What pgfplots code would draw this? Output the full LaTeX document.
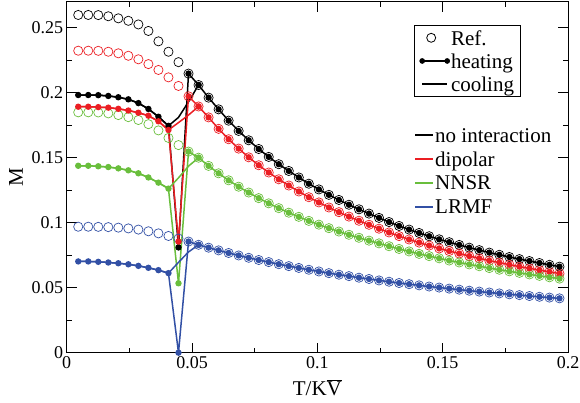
\documentclass[border=0pt]{standalone}
\usepackage{pgfplots}
\pgfplotsset{compat=1.18}
\usepackage{pgfplotstable}
\usepackage{fontspec}
\setmainfont{Liberation Serif}
\definecolor{cR}{RGB}{235,30,35}
\definecolor{cG}{RGB}{105,190,60}
\definecolor{cL}{RGB}{50,80,165}

\pgfplotstableread{
x b r g l
0.0046 0.2598 0.2323 0.1849 0.0969
0.0086 0.2598 0.2323 0.1849 0.0969
0.0126 0.2597 0.2322 0.1848 0.0968
0.0166 0.2588 0.2315 0.1841 0.0966
0.0206 0.2572 0.2303 0.1828 0.0962
0.0246 0.2553 0.2284 0.1812 0.0956
0.0286 0.2525 0.2257 0.1790 0.0947
0.0326 0.2475 0.2220 0.1758 0.0934
0.0366 0.2395 0.2175 0.1710 0.0918
0.0406 0.2315 0.2118 0.1652 0.0898
0.0446 0.2235 0.2052 0.1597 0.0878
0.0486 0.2147 0.1972 0.1547 0.0855
0.0526 0.2059 0.1894 0.1500 0.0830
0.0566 0.1962 0.1810 0.1437 0.0808
0.0606 0.1872 0.1722 0.1380 0.0787
0.0646 0.1785 0.1642 0.1326 0.0767
0.0686 0.1706 0.1570 0.1277 0.0748
0.0726 0.1634 0.1503 0.1232 0.0730
0.0766 0.1567 0.1442 0.1189 0.0713
0.0806 0.1506 0.1386 0.1149 0.0697
0.0846 0.1450 0.1334 0.1112 0.0681
0.0886 0.1398 0.1286 0.1077 0.0666
0.0926 0.1348 0.1240 0.1045 0.0652
0.0966 0.1300 0.1196 0.1014 0.0638
0.1006 0.1256 0.1156 0.0985 0.0625
0.1046 0.1214 0.1117 0.0958 0.0612
0.1086 0.1175 0.1081 0.0932 0.0600
0.1126 0.1138 0.1047 0.0907 0.0589
0.1166 0.1103 0.1015 0.0884 0.0577
0.1206 0.1070 0.0984 0.0862 0.0567
0.1246 0.1037 0.0954 0.0841 0.0556
0.1286 0.1005 0.0925 0.0819 0.0546
0.1326 0.0975 0.0897 0.0798 0.0536
0.1366 0.0947 0.0871 0.0779 0.0527
0.1406 0.0921 0.0847 0.0760 0.0518
0.1446 0.0896 0.0824 0.0743 0.0509
0.1486 0.0872 0.0802 0.0726 0.0501
0.1526 0.0850 0.0782 0.0709 0.0493
0.1566 0.0829 0.0763 0.0694 0.0485
0.1606 0.0808 0.0743 0.0679 0.0477
0.1646 0.0789 0.0726 0.0665 0.0470
0.1686 0.0770 0.0708 0.0651 0.0463
0.1726 0.0753 0.0693 0.0638 0.0456
0.1766 0.0736 0.0677 0.0626 0.0449
0.1806 0.0720 0.0662 0.0614 0.0443
0.1846 0.0705 0.0649 0.0602 0.0436
0.1886 0.0690 0.0635 0.0591 0.0430
0.1926 0.0676 0.0622 0.0580 0.0424
0.1966 0.0662 0.0609 0.0570 0.0418
}\reftab

\pgfplotstableread{
x hb hr hg hl cb cr cg cl
0.0046 0.1982 0.1892 0.1438 0.0702 0.1982 0.1892 0.1438 0.0702
0.0086 0.1982 0.1892 0.1438 0.0702 0.1982 0.1892 0.1438 0.0702
0.0126 0.1981 0.1889 0.1434 0.0699 0.1981 0.1889 0.1434 0.0699
0.0166 0.1975 0.1885 0.1428 0.0694 0.1975 0.1885 0.1428 0.0694
0.0206 0.1965 0.1876 0.1418 0.0688 0.1965 0.1876 0.1418 0.0688
0.0246 0.1949 0.1863 0.1403 0.0680 0.1949 0.1863 0.1403 0.0680
0.0286 0.1920 0.1846 0.1380 0.0668 0.1920 0.1846 0.1380 0.0668
0.0326 0.1875 0.1823 0.1348 0.0653 0.1875 0.1823 0.1348 0.0653
0.0366 0.1815 0.1780 0.1308 0.0635 0.1815 0.1780 0.1308 0.0635
0.0406 0.1745 0.1713 0.1262 0.0612 0.1745 0.1713 0.1262 0.0612
0.0446 0.0810 0.0855 0.0534 0.0000 0.1810 0.1770 0.1345 0.0695
0.0486 0.2147 0.1972 0.1547 0.0855 0.1930 0.1828 0.1435 0.0775
0.0526 0.2059 0.1894 0.1500 0.0830 0.2059 0.1894 0.1500 0.0830
}\lowtab

\begin{document}
\begin{tikzpicture}
\begin{axis}[
  at={(0,0)}, anchor=south west,
  scale only axis, width=501.3pt, height=350.7pt,
  xmin=0, xmax=0.2, ymin=0, ymax=0.26977,
  xtick={0,0.05,0.1,0.15,0.2}, xticklabels={0,0.05,0.1,0.15,0.2},
  ytick={0,0.05,0.1,0.15,0.2,0.25}, yticklabels={0,0.05,0.1,0.15,0.2,0.25},
  minor x tick num=1, minor y tick num=1,
  xtick pos=both, ytick pos=both, xticklabel pos=left, yticklabel pos=left,
  tick align=inside, major tick length=10pt, minor tick length=5pt,
  tick style={line width=0.9pt, black},
  axis line style={line width=1pt},
  tick label style={font=\fontsize{18}{20}\selectfont},
  label style={font=\fontsize{21}{24}\selectfont},
  xlabel={T/K$\overline{\mbox{V}}$}, ylabel={M},
  xlabel style={at={(axis description cs:0.5,0)}, anchor=base, yshift=-43pt},
  ylabel style={at={(axis description cs:-0.101,0.5)}, anchor=center},
  legend style={at={(0.6928,0.9344)}, anchor=north west, draw=black, line width=0.8pt,
    font=\fontsize{21}{22}\selectfont, row sep=6.5pt, inner xsep=5pt, inner ysep=4pt,
    nodes={inner sep=1pt, text depth=0pt},
    /tikz/every even column/.append style={column sep=5pt}},
  legend cell align=left,
]
\addlegendimage{legend image code/.code={\path[draw=none] (0pt,0pt)--(25pt,0pt); \draw[black, line width=0.8pt] (9pt,0pt) circle (4.5pt);}}
\addlegendentry{Ref.}
\addlegendimage{legend image code/.code={\draw[black,line width=2pt] (0pt,0pt)--(25pt,0pt); \fill[black] (0pt,0pt) circle (2.4pt); \fill[black] (25pt,0pt) circle (2.4pt);}}
\addlegendentry{heating}
\addlegendimage{legend image code/.code={\draw[black,line width=2pt] (0pt,0pt)--(25pt,0pt);}}
\addlegendentry{cooling}

% reference curves
\addplot[black, only marks, mark=o, mark size=4.6pt, mark options={line width=0.7pt}, forget plot] table[x=x,y=b]{\reftab};
\addplot[cR, only marks, mark=o, mark size=4.6pt, mark options={line width=0.7pt}, forget plot] table[x=x,y=r]{\reftab};
\addplot[cG, only marks, mark=o, mark size=4.6pt, mark options={line width=0.7pt}, forget plot] table[x=x,y=g]{\reftab};
\addplot[cL, only marks, mark=o, mark size=4.6pt, mark options={line width=0.7pt}, forget plot] table[x=x,y=l]{\reftab};

% black
\addplot[black, line width=1.5pt, forget plot] table[x=x,y=cb]{\lowtab};
\addplot[black, line width=1.5pt, mark=*, mark size=2.4pt, forget plot] table[x=x,y=hb]{\lowtab};
\addplot[black, line width=1.5pt, mark=*, mark size=2.4pt, restrict x to domain=0.05:0.21, forget plot] table[x=x,y=b]{\reftab};
% red
\addplot[cR, line width=1.5pt, forget plot] table[x=x,y=cr]{\lowtab};
\addplot[cR, line width=1.5pt, mark=*, mark size=2.4pt, forget plot] table[x=x,y=hr]{\lowtab};
\addplot[cR, line width=1.5pt, mark=*, mark size=2.4pt, restrict x to domain=0.05:0.21, forget plot] table[x=x,y=r]{\reftab};
% green
\addplot[cG, line width=1.5pt, forget plot] table[x=x,y=cg]{\lowtab};
\addplot[cG, line width=1.5pt, mark=*, mark size=2.4pt, forget plot] table[x=x,y=hg]{\lowtab};
\addplot[cG, line width=1.5pt, mark=*, mark size=2.4pt, restrict x to domain=0.05:0.21, forget plot] table[x=x,y=g]{\reftab};
% blue
\addplot[cL, line width=1.5pt, forget plot] table[x=x,y=cl]{\lowtab};
\addplot[cL, line width=1.5pt, mark=*, mark size=2.4pt, forget plot] table[x=x,y=hl]{\lowtab};
\addplot[cL, line width=1.5pt, mark=*, mark size=2.4pt, restrict x to domain=0.05:0.21, forget plot] table[x=x,y=l]{\reftab};
\end{axis}

\begin{axis}[
  at={(0,0)}, anchor=south west,
  scale only axis, width=501.3pt, height=350.7pt,
  xmin=0, xmax=1, ymin=0, ymax=1, hide axis,
  legend style={at={(0.6928,0.6436)}, anchor=north west, draw=none, fill=none,
    font=\fontsize{21}{22}\selectfont, row sep=7.7pt, inner sep=0pt,
    nodes={inner sep=1pt, text depth=0pt},
    /tikz/every even column/.append style={column sep=6pt}},
  legend cell align=left,
]
\addlegendimage{legend image code/.code={\draw[black,line width=2pt] (0pt,0pt)--(18pt,0pt);}}
\addlegendentry{no interaction}
\addlegendimage{legend image code/.code={\draw[cR,line width=2pt] (0pt,0pt)--(18pt,0pt);}}
\addlegendentry{dipolar}
\addlegendimage{legend image code/.code={\draw[cG,line width=2pt] (0pt,0pt)--(18pt,0pt);}}
\addlegendentry{NNSR}
\addlegendimage{legend image code/.code={\draw[cL,line width=2pt] (0pt,0pt)--(18pt,0pt);}}
\addlegendentry{LRMF}
\end{axis}
\pgfresetboundingbox
\path (-66.7pt,-50.3pt) rectangle (513.3pt,352.7pt);
\end{tikzpicture}
\end{document}
